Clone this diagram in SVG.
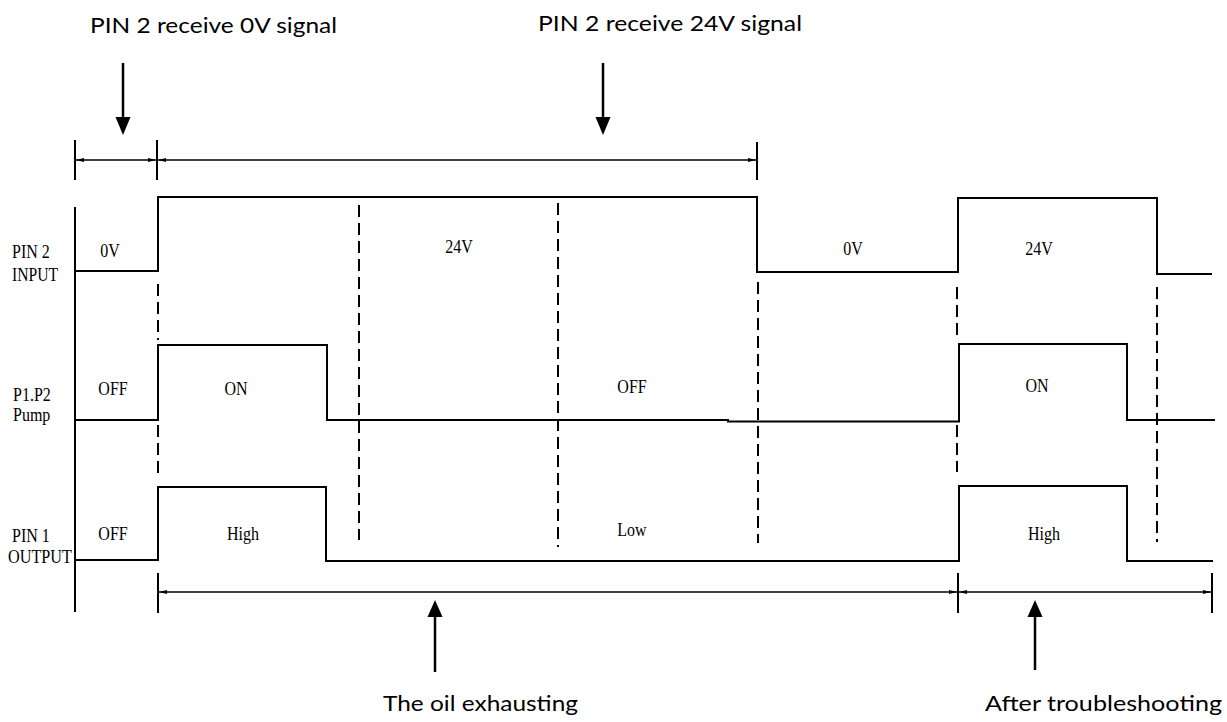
<svg xmlns="http://www.w3.org/2000/svg" width="1227" height="722" viewBox="0 0 1227 722">
<style>
.sig{fill:none;stroke:#000;stroke-width:2}
.dash{fill:none;stroke:#000;stroke-width:2;stroke-dasharray:12 6}
.dim{fill:none;stroke:#000;stroke-width:1.5}
.tick{fill:none;stroke:#000;stroke-width:2}
.big{fill:none;stroke:#000;stroke-width:2.5}
.head{fill:#000}
.ann{font-family:Lato,"Liberation Sans",sans-serif;font-size:22px;fill:#000}
.lab{font-family:"Liberation Serif",serif;font-size:16px;fill:#000}
.val{font-family:"Liberation Serif",serif;font-size:16px;fill:#000;text-anchor:middle}
</style>
<defs>
<marker id="sa" viewBox="0 0 8 4" refX="8" refY="2" markerWidth="8" markerHeight="4" markerUnits="userSpaceOnUse" orient="auto-start-reverse">
<path d="M0,0 L8,2 L0,4 Z" fill="#000"/>
</marker>
</defs>
<rect width="1227" height="722" fill="#fff"/>

<g id="annotations">
<text class="ann" x="90" y="33" textLength="247" lengthAdjust="spacingAndGlyphs">PIN 2 receive 0V signal</text>
<text class="ann" x="538" y="31" textLength="264" lengthAdjust="spacingAndGlyphs">PIN 2 receive 24V signal</text>
<text class="ann" x="383" y="711" textLength="195" lengthAdjust="spacingAndGlyphs">The oil exhausting</text>
<text class="ann" x="985" y="711" textLength="237" lengthAdjust="spacingAndGlyphs">After troubleshooting</text>
</g>

<g id="row-labels">
<text class="lab" transform="translate(12 258) scale(1 1.2)">PIN 2</text>
<text class="lab" transform="translate(12 281) scale(1 1.2)" textLength="46" lengthAdjust="spacingAndGlyphs">INPUT</text>
<text class="lab" transform="translate(13 401) scale(1 1.2)">P1.P2</text>
<text class="lab" transform="translate(13 421) scale(1 1.2)">Pump</text>
<text class="lab" transform="translate(12 542) scale(1 1.2)">PIN 1</text>
<text class="lab" transform="translate(8 563) scale(1 1.2)" textLength="64" lengthAdjust="spacingAndGlyphs">OUTPUT</text>
</g>

<g id="axis">
<line class="sig" x1="75" y1="207" x2="75" y2="612"/>
</g>

<g id="pin2-input">
<path class="sig" d="M75,271 H158 V197 H757 V272 H958 V198 H1157 V274 H1212"/>
<text class="val" transform="translate(110 257) scale(1 1.2)">0V</text>
<text class="val" transform="translate(459 253) scale(1 1.2)">24V</text>
<text class="val" transform="translate(853 255) scale(1 1.2)">0V</text>
<text class="val" transform="translate(1039 255) scale(1 1.2)">24V</text>
</g>

<g id="pump">
<path class="sig" d="M75,420 H158 V345 H327 V420 H728 V421.5 H959 V344 H1127 V420 H1215"/>
<text class="val" transform="translate(113 395) scale(1 1.2)">OFF</text>
<text class="val" transform="translate(236 395) scale(1 1.2)">ON</text>
<text class="val" transform="translate(632 393) scale(1 1.2)">OFF</text>
<text class="val" transform="translate(1037 392) scale(1 1.2)">ON</text>
</g>

<g id="pin1-output">
<path class="sig" d="M75,560 H158 V487 H326 V561 H959 V486 H1127 V561 H1213"/>
<text class="val" transform="translate(113 540) scale(1 1.2)">OFF</text>
<text class="val" transform="translate(243 540) scale(1 1.2)">High</text>
<text class="val" transform="translate(632 536) scale(1 1.2)">Low</text>
<text class="val" transform="translate(1044 540) scale(1 1.2)">High</text>
</g>

<g id="connectors">
<line class="dash" x1="158" y1="284" x2="158" y2="340"/>
<line class="dash" x1="158" y1="425" x2="158" y2="477"/>
<line class="dash" x1="359" y1="205" x2="359" y2="540"/>
<line class="dash" x1="558" y1="203" x2="558" y2="547"/>
<line class="dash" x1="758" y1="282" x2="758" y2="543"/>
<line class="dash" x1="957" y1="287" x2="957" y2="335"/>
<line class="dash" x1="957" y1="425" x2="957" y2="472"/>
<line class="dash" x1="1157" y1="287" x2="1157" y2="542"/>

<line class="tick" x1="75" y1="140" x2="75" y2="180"/>
<line class="tick" x1="157" y1="140" x2="157" y2="180"/>
<line class="tick" x1="757" y1="142" x2="757" y2="180"/>
<line class="dim" x1="76" y1="160" x2="156" y2="160" marker-start="url(#sa)" marker-end="url(#sa)"/>
<line class="dim" x1="158" y1="160" x2="756" y2="160" marker-start="url(#sa)" marker-end="url(#sa)"/>

<line class="tick" x1="158" y1="573" x2="158" y2="613"/>
<line class="tick" x1="958" y1="573" x2="958" y2="613"/>
<line class="tick" x1="1212" y1="573" x2="1212" y2="613"/>
<line class="dim" x1="159" y1="592" x2="957" y2="592" marker-start="url(#sa)" marker-end="url(#sa)"/>
<line class="dim" x1="959" y1="592" x2="1211" y2="592" marker-start="url(#sa)" marker-end="url(#sa)"/>

<line class="big" x1="123" y1="63" x2="123" y2="120"/>
<path class="head" d="M115.5,117 H130.5 L123,135 Z"/>
<line class="big" x1="603" y1="63" x2="603" y2="120"/>
<path class="head" d="M595.5,117 H610.5 L603,135 Z"/>
<line class="big" x1="435" y1="614" x2="435" y2="672"/>
<path class="head" d="M427.5,617 H442.5 L435,600 Z"/>
<line class="big" x1="1035" y1="614" x2="1035" y2="670"/>
<path class="head" d="M1027.5,617 H1042.5 L1035,600 Z"/>
</g>
</svg>
